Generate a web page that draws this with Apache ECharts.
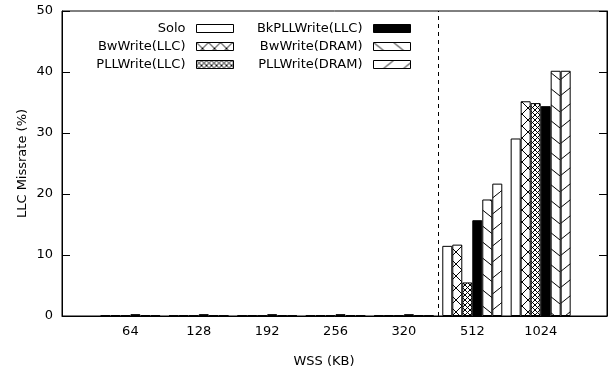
<!DOCTYPE html>
<html><head><meta charset="utf-8">
<script src="https://cdn.jsdelivr.net/npm/echarts@6/dist/echarts.min.js"></script>
<style>html,body{margin:0;padding:0;background:#fff}#c{width:610px;height:377px}</style>
</head><body><div id="c"></div>
<script>
const categories = ['64', '128', '192', '256', '320', '512', '1024'];
const seriesNames = ['Solo', 'BwWrite(LLC)', 'PLLWrite(LLC)', 'BkPLLWrite(LLC)', 'BwWrite(DRAM)', 'PLLWrite(DRAM)'];
const soloValues    = [0.1, 0.1, 0.1, 0.1, 0.1, 11.5, 29.1];
const bwLLCValues   = [0.15, 0.15, 0.15, 0.15, 0.15, 11.7, 35.2];
const pllLLCValues  = [0.1, 0.1, 0.1, 0.1, 0.1, 5.5, 34.9];
const bkPLLValues   = [0.3, 0.3, 0.3, 0.3, 0.3, 15.7, 34.4];
const bwDRAMValues  = [0.15, 0.15, 0.15, 0.15, 0.15, 19.1, 40.2];
const pllDRAMValues = [0.1, 0.1, 0.1, 0.1, 0.1, 21.7, 40.2];
const yTicks = [0, 10, 20, 30, 40, 50];
const dividerPosition = 4.5;

const FONT = 'DejaVu Sans';

function makePattern(w, h, draw) {
  const cv = document.createElement('canvas');
  cv.width = w; cv.height = h;
  const ctx = cv.getContext('2d');
  ctx.fillStyle = '#fff';
  ctx.fillRect(0, 0, w, h);
  ctx.strokeStyle = '#000';
  ctx.lineWidth = 1;
  draw(ctx, w, h);
  return { image: cv, repeat: 'repeat' };
}
function line(ctx, a, b, c, d) { ctx.beginPath(); ctx.moveTo(a, b); ctx.lineTo(c, d); ctx.stroke(); }

const fills = [
  '#ffffff',
  makePattern(12, 12, (ctx, w, h) => { line(ctx, 0, 0, w, h); line(ctx, w, 0, 0, h); }),
  makePattern(5, 5, (ctx, w, h) => { line(ctx, 0, 0, w, h); line(ctx, w, 0, 0, h); }),
  '#000000',
  makePattern(20, 16, (ctx, w, h) => { line(ctx, 0, 0, w, h); line(ctx, -w, 0, 0, h); line(ctx, w, 0, 2 * w, h); }),
  makePattern(20, 16, (ctx, w, h) => { line(ctx, 0, h, w, 0); line(ctx, -w, h, 0, 0); line(ctx, w, h, 2 * w, 0); })
];

const allValues = [soloValues, bwLLCValues, pllLLCValues, bkPLLValues, bwDRAMValues, pllDRAMValues];

const series = allValues.map((vals, si) => ({
  name: seriesNames[si],
  type: 'bar',
  barWidth: 10,
  barGap: '0%',
  data: categories.map((c, i) => [i, vals[i]]),
  itemStyle: { color: fills[si], borderColor: '#000', borderWidth: 1 },
  emphasis: { disabled: true }
}));
series.push({
  name: 'divider',
  type: 'line',
  data: [],
  markLine: {
    silent: true,
    symbol: ['none', 'none'],
    label: { show: false },
    lineStyle: { color: '#000', type: [4, 4], width: 1 },
    data: [{ xAxis: dividerPosition }]
  }
});

const legendCommon = {
  orient: 'vertical',
  align: 'right',
  icon: 'rect',
  itemWidth: 37,
  itemHeight: 8,
  itemGap: 5,
  padding: 0,
  selectedMode: false,
  textStyle: { fontSize: 13, fontFamily: FONT, color: '#000', padding: [0, 6, 0, 0] },
  itemStyle: { borderWidth: 1, borderColor: '#000' }
};

const chart = echarts.init(document.getElementById('c'), null, { renderer: 'canvas' });
chart.setOption({
  animation: false,
  backgroundColor: '#fff',
  grid: { left: 62, right: 2, top: 11, bottom: 61, show: true, borderColor: '#000', borderWidth: 1, backgroundColor: 'transparent' },
  legend: [
    Object.assign({}, legendCommon, { data: seriesNames.slice(0, 3), right: 376, top: 22 }),
    Object.assign({}, legendCommon, { data: seriesNames.slice(3), right: 199, top: 22 })
  ],
  xAxis: {
    type: 'value', min: -1, max: 6.97, interval: 1,
    name: 'WSS (KB)', nameLocation: 'middle', nameGap: 39, nameMoveOverlap: false,
    nameTextStyle: { fontSize: 13, fontFamily: FONT, color: '#000', padding: [0, 21, 0, 0] },
    axisLine: { show: true, onZero: false, lineStyle: { color: '#000', width: 1 } },
    axisTick: { show: false },
    splitLine: { show: false },
    axisLabel: {
      fontSize: 13, fontFamily: FONT, color: '#000', margin: 9,
      formatter: v => (Number.isInteger(v) && v >= 0 && v < categories.length) ? categories[v] : ''
    }
  },
  yAxis: [
    {
      type: 'value', min: yTicks[0], max: yTicks[yTicks.length - 1], interval: yTicks[1] - yTicks[0],
      name: 'LLC Missrate (%)', nameLocation: 'middle', nameGap: 33, nameMoveOverlap: false,
      nameTextStyle: { fontSize: 13, fontFamily: FONT, color: '#000' },
      axisLine: { show: true, onZero: false, lineStyle: { color: '#000', width: 1 } },
      axisTick: { show: true, inside: true, length: 8, lineStyle: { color: '#000' } },
      splitLine: { show: false },
      axisLabel: { fontSize: 13, fontFamily: FONT, color: '#000', margin: 9 }
    },
    {
      type: 'value', position: 'right', min: yTicks[0], max: yTicks[yTicks.length - 1], interval: yTicks[1] - yTicks[0],
      axisLine: { show: true, onZero: false, lineStyle: { color: '#000', width: 1 } },
      axisTick: { show: true, inside: true, length: 8, lineStyle: { color: '#000' } },
      splitLine: { show: false },
      axisLabel: { show: false }
    }
  ],
  series: series
});
</script>
</body></html>
